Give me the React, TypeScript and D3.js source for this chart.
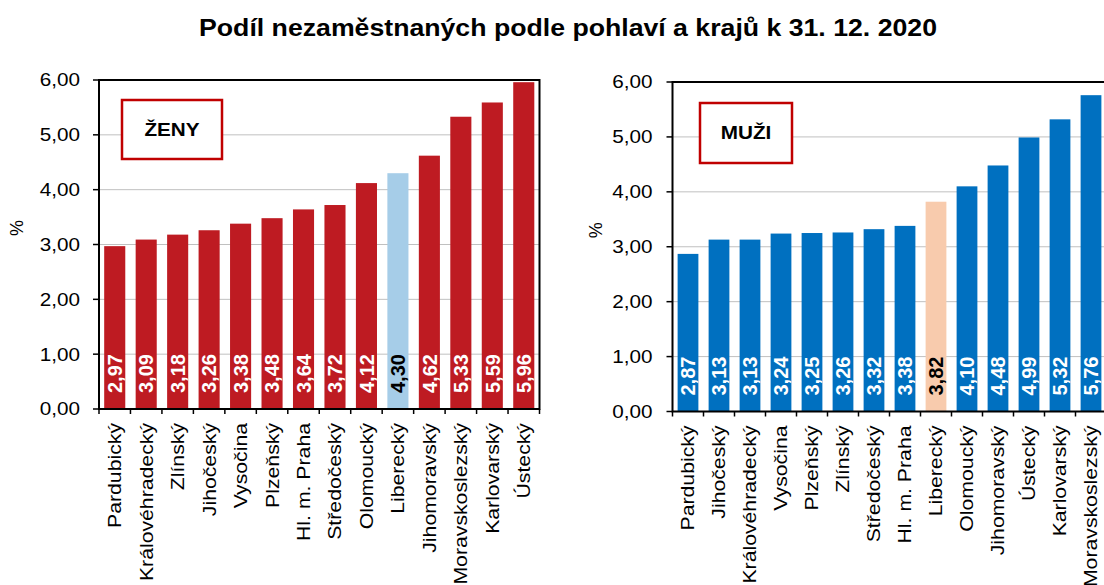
import * as d3 from 'd3';

// ženy – kraje seřazené podle podílu
const womenRegions = [
  'Pardubický', 'Královéhradecký', 'Zlínský', 'Jihočeský', 'Vysočina', 'Plzeňský',
  'Hl. m. Praha', 'Středočeský', 'Olomoucký', 'Liberecký', 'Jihomoravský',
  'Moravskoslezský', 'Karlovarský', 'Ústecký',
];
const womenValues = [2.97, 3.09, 3.18, 3.26, 3.38, 3.48, 3.64, 3.72, 4.12, 4.3, 4.62, 5.33, 5.59, 5.96];

// muži
const menRegions = [
  'Pardubický', 'Jihočeský', 'Královéhradecký', 'Vysočina', 'Plzeňský', 'Zlínský',
  'Středočeský', 'Hl. m. Praha', 'Liberecký', 'Olomoucký', 'Jihomoravský', 'Ústecký',
  'Karlovarský', 'Moravskoslezský',
];
const menValues = [2.87, 3.13, 3.13, 3.24, 3.25, 3.26, 3.32, 3.38, 3.82, 4.1, 4.48, 4.99, 5.32, 5.76];

const yTicks = [0, 1, 2, 3, 4, 5, 6];
const highlightRegion = 'Liberecký';

const FONT = "'Liberation Sans', Arial, sans-serif";
const fmt = (v: number) => d3.format('.2f')(v).replace('.', ',');

type PanelProps = {
  regions: string[];
  values: number[];
  left: number;
  right: number;
  top: number;
  bottom: number;
  barColor: string;
  highlightColor: string;
  badge: string;
  badgeBox: [number, number, number, number];
  tickGap: number;
  pctX: number;
};

const Panel = ({
  regions, values, left, right, top, bottom, barColor, highlightColor,
  badge, badgeBox, tickGap, pctX,
}: PanelProps) => {
  const x = d3.scaleBand<string>().domain(regions).range([left, right]).paddingInner(0.33).paddingOuter(0.165);
  const y = d3.scaleLinear().domain([0, 6]).range([bottom, top]);
  const step = x.step();
  const [bx, by, bw, bh] = badgeBox;

  return (
    <g fontFamily={FONT}>
      {/* mřížka */}
      {yTicks.slice(1, -1).map((t) => (
        <line key={t} x1={left} x2={right} y1={y(t)} y2={y(t)} stroke='#c0c0c0' strokeWidth={1} />
      ))}
      {/* sloupce */}
      {regions.map((r, i) => (
        <rect
          key={r}
          x={x(r)}
          y={y(values[i])}
          width={x.bandwidth()}
          height={y(0) - y(values[i])}
          fill={r === highlightRegion ? highlightColor : barColor}
        />
      ))}
      {/* hodnoty */}
      {regions.map((r, i) => (
        <text
          key={r}
          transform={`translate(${(x(r) ?? 0) + x.bandwidth() / 2}, ${bottom - 16}) rotate(-90)`}
          dy='0.36em'
          fontSize={20}
          fontWeight='bold'
          fill={r === highlightRegion ? '#000' : '#fff'}
        >
          {fmt(values[i])}
        </text>
      ))}
      {/* rám */}
      <rect x={left} y={top} width={right - left} height={bottom - top} fill='none' stroke='#000' strokeWidth={2} />
      {/* osa y */}
      {yTicks.map((t) => (
        <g key={t}>
          <line x1={left - 6} x2={left} y1={y(t)} y2={y(t)} stroke='#000' strokeWidth={1.5} />
          <text
            transform={`translate(${left - tickGap}, ${y(t)}) scale(1.15, 1)`}
            dy='0.36em'
            textAnchor='end'
            fontSize={18}
            fill='#000'
          >
            {fmt(t)}
          </text>
        </g>
      ))}
      {/* osa x */}
      {d3.range(regions.length + 1).map((i) => (
        <line
          key={i}
          x1={left + i * step}
          x2={left + i * step}
          y1={bottom}
          y2={bottom + 5}
          stroke='#000'
          strokeWidth={1.5}
        />
      ))}
      {regions.map((r) => (
        <text
          key={r}
          transform={`translate(${(x(r) ?? 0) + x.bandwidth() / 2}, ${bottom + 14}) rotate(-90) scale(1.18, 1)`}
          dy='0.36em'
          textAnchor='end'
          fontSize={18}
          fill='#000'
        >
          {r}
        </text>
      ))}
      <text transform={`translate(${pctX}, ${y(3.3)}) rotate(-90)`} textAnchor='middle' fontSize={18} fill='#000'>
        %
      </text>
      {/* štítek */}
      <rect x={bx} y={by} width={bw} height={bh} fill='#fff' stroke='#c00000' strokeWidth={2.5} />
      <text
        transform={`translate(${bx + bw / 2}, ${by + bh / 2}) scale(1.15, 1)`}
        dy='0.36em'
        textAnchor='middle'
        fontSize={18}
        fontWeight='bold'
        fill='#000'
      >
        {badge}
      </text>
    </g>
  );
};

const App = () => {
  return (
    <svg width={1104} height={585} style={{ position: 'absolute', left: 0, top: 0, background: '#fff' }}>
      <rect width={1104} height={585} fill='#fff' />
      <text
        transform='translate(568, 36) scale(1.16, 1)'
        textAnchor='middle'
        fontFamily={FONT}
        fontSize={23}
        fontWeight='bold'
        fill='#000'
      >
        Podíl nezaměstnaných podle pohlaví a krajů k 31. 12. 2020
      </text>
      <Panel
        regions={womenRegions}
        values={womenValues}
        left={99}
        right={539.5}
        top={80}
        bottom={409}
        barColor='#be1b22'
        highlightColor='#a6cde8'
        badge='ŽENY'
        badgeBox={[122, 100, 100, 59]}
        tickGap={19}
        pctX={23}
      />
      <Panel
        regions={menRegions}
        values={menValues}
        left={672.5}
        right={1106.5}
        top={82}
        bottom={411.5}
        barColor='#0070c0'
        highlightColor='#f8cbad'
        badge='MUŽI'
        badgeBox={[700, 103, 92, 60]}
        tickGap={20}
        pctX={602}
      />
    </svg>
  );
};

export default App;
